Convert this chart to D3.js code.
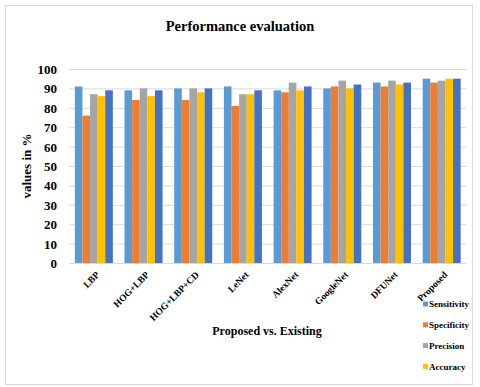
<!DOCTYPE html>
<html><head><meta charset="utf-8">
<script src="https://cdn.jsdelivr.net/npm/d3@7"></script>
<style>body{margin:0;background:#fff}svg{display:block}svg text{font-family:"Liberation Serif","DejaVu Serif","Times New Roman",serif !important;font-weight:bold;fill:#000}</style>
</head><body><svg id="c" width="480" height="387" font-family="Liberation Serif, DejaVu Serif, serif"></svg>
<script>
const categories = ["LBP","HOG+LBP","HOG+LBP+CD","LeNet","AlexNet","GoogleNet","DFUNet","Proposed"];
const seriesNames = ["Sensitivity","Specificity","Precision","Accuracy","F-measure"];
const sensitivity = [91,89,90,91,89,90,93,95];
const specificity = [76,84,84,81,88,91,91,93];
const precision   = [87,90,90,87,93,94,94,94];
const accuracy    = [86,86,88,87,89,90,92,95];
const fmeasure    = [89,89,90,89,91,92,93,95];
const seriesValues = [sensitivity,specificity,precision,accuracy,fmeasure];
const colors = ["#5B9BD5","#ED7D31","#A5A5A5","#FFC000","#4472C4"];
const yTicks = [0,10,20,30,40,50,60,70,80,90,100];
const legendShown = 4;

const FONT = "Liberation Serif, DejaVu Serif, serif";
const svg = d3.select("#c");
svg.append("rect").attr("x",5.5).attr("y",5.5).attr("width",467).attr("height",379)
  .attr("fill","#fff").attr("stroke","#d9d9d9");

const L=69, R=466.5, T=69, B=263;
const x0 = d3.scaleBand().domain(categories).range([L,R]).paddingInner(0.235).paddingOuter(0.1175);
const x1 = d3.scaleBand().domain(seriesNames).range([0,x0.bandwidth()]);
const y = d3.scaleLinear().domain([0,100]).range([B,T]);

svg.append("g").selectAll("line").data(yTicks).join("line")
  .attr("x1",L).attr("x2",R).attr("y1",d=>y(d)+0.5).attr("y2",d=>y(d)+0.5)
  .attr("stroke","#d9d9d9").attr("stroke-width",1);

const g = svg.append("g");
seriesValues.forEach((vals,si)=>{
  g.append("g").selectAll("rect").data(vals).join("rect")
    .attr("x",(d,i)=>x0(categories[i])+x1(seriesNames[si]))
    .attr("width",x1.bandwidth())
    .attr("y",d=>y(d)).attr("height",d=>B-y(d))
    .attr("fill",colors[si]);
});

const yAxis = svg.append("g").attr("transform",`translate(${L},0)`)
  .call(d3.axisLeft(y).tickValues(yTicks).tickSize(0).tickPadding(12))
  .attr("font-family",FONT);
yAxis.select(".domain").remove();
yAxis.selectAll("text").attr("font-family",FONT).style("font-size","13px").attr("dy","0.35em");

svg.append("g").selectAll("text").data(categories).join("text")
  .attr("transform",d=>`translate(${x0(d)+x0.bandwidth()/2+4},${B+10}) rotate(-45)`)
  .attr("text-anchor","end").attr("dy","0.35em").attr("font-family",FONT)
  .style("font-size","9.5px").text(d=>d);

svg.append("text").attr("x",240).attr("y",31).attr("text-anchor","middle").attr("font-family",FONT)
  .style("font-size","14.5px").text("Performance evaluation");
svg.append("text").attr("transform","translate(26,166) rotate(-90)").attr("text-anchor","middle")
  .attr("dy","0.35em").attr("font-family",FONT).style("font-size","13px").text("values in %");
svg.append("text").attr("x",267).attr("y",335).attr("text-anchor","middle").attr("font-family",FONT)
  .style("font-size","12px").text("Proposed vs. Existing");

const lg = svg.append("g");
seriesNames.slice(0,legendShown).forEach((n,i)=>{
  const yy = 304 + i*20.8;
  lg.append("rect").attr("x",423).attr("y",yy-2.5).attr("width",5).attr("height",5).attr("fill",colors[i]);
  lg.append("text").attr("x",429).attr("y",yy).attr("dy","0.35em").attr("font-family",FONT)
    .style("font-size","9px").text(n);
});
</script></body></html>
